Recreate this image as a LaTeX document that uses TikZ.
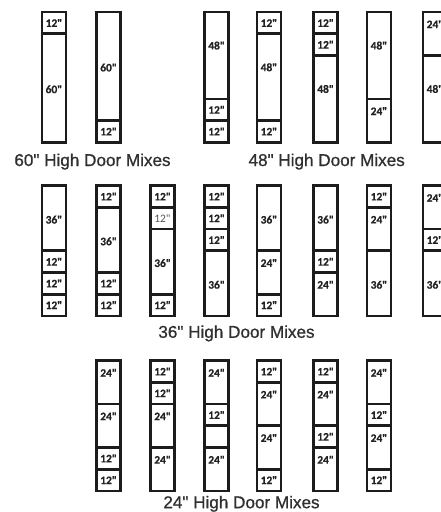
\documentclass[tikz,border=0pt]{standalone}
\usepackage{fontspec}
\setmainfont{Liberation Sans}[Ligatures=TeXOff, FakeBold=0.8]
\newfontfamily\carlito{Carlito}[Ligatures=TeXOff, BoldFeatures={FakeBold=0.6}]
\definecolor{framecol}{HTML}{1C1C1C}
\definecolor{lbltxt}{HTML}{222222}
\definecolor{lblreg}{HTML}{555555}
\definecolor{titlecol}{HTML}{303030}
\def\unitin{1.8097}
\newcommand\lfb{\carlito\bfseries\color{lbltxt}}
\newcommand\lfr{\carlito\mdseries\color{lblreg}}
\newcommand\doorcol[4]{%
  \gdef\gcum{0}%
  \foreach \s/\t [count=\i] in {#4} {%
    \pgfmathsetmacro\ya{#3+1.35+\gcum*\unitin}%
    \ifnum\i>1 \draw[doorline] (#2+1.35,\ya) -- (#2+25.35,\ya);\fi
    \pgfmathsetmacro\off{(\s==12)*10.9+(\s==24)*12.2+(\s==36)*34+(\s==48)*33.5+(\s==60)*55.5}%
    \if\t n\else\node[lbl] (#1-\i) at (#2+4.8,\ya+\off) {\csname lf\t\endcsname\s"};\fi
    \pgfmathsetmacro\nc{\gcum+\s}%
    \xdef\gcum{\nc}%
  }%
  \draw[doorframe] (#2+1.35,#3+1.35) rectangle (#2+25.35,#3+131.65);
}
\tikzset{
  doorframe/.style={draw=framecol, line width=2.8pt},
  doorline/.style={draw=framecol, line width=2.8pt},
  lbl/.style={anchor=west, inner sep=0pt, font=\carlito\fontsize{11.4}{12}\selectfont},
  title/.style={anchor=base, inner sep=0pt, text=titlecol, font=\fontsize{17.1}{20}\selectfont}
}
\begin{document}
\begin{tikzpicture}[x=1pt,y=-1pt]
\useasboundingbox (0,0) rectangle (441,512);
\clip (0,0) rectangle (441,512);
\fill[white] (0,0) rectangle (441,512);
% top row
\doorcol{t0}{40.7}{10.7}{12/b,60/b}
\doorcol{t1}{95.3}{10.7}{60/b,12/b}
\doorcol{t3}{203.3}{10.7}{48/b,12/b,12/b}
\doorcol{t4}{255.7}{10.7}{12/b,48/b,12/b}
\doorcol{t5}{312.3}{10.7}{12/b,12/b,48/b}
\doorcol{t6}{365.7}{10.7}{48/b,24/b}
\doorcol{t7}{421.7}{10.7}{24/b,48/b}
% middle row
\doorcol{m0}{40.7}{184.3}{36/b,12/b,12/b,12/b}
\doorcol{m1}{95.3}{184.3}{12/b,36/b,12/b,12/b}
\doorcol{m2}{149.3}{184.3}{12/b,12/r,36/b,12/b}
\doorcol{m3}{203.3}{184.3}{12/b,12/b,12/b,36/b}
\doorcol{m4}{255.7}{184.3}{36/b,24/b,12/b}
\doorcol{m5}{312.3}{184.3}{36/b,12/b,24/b}
\doorcol{m6}{365.7}{184.3}{12/b,24/b,36/b}
\doorcol{m7}{421.7}{184.3}{24/b,12/b,36/b}
% bottom row
\doorcol{b1}{95.3}{359.3}{24/b,24/b,12/b,12/b}
\doorcol{b2}{149.3}{359.3}{12/b,12/b,24/b,24/b}
\doorcol{b3}{203.3}{359.3}{24/b,12/b,12/n,24/b}
\doorcol{b4}{255.7}{359.3}{12/b,24/b,24/b,12/b}
\doorcol{b5}{312.3}{359.3}{12/b,24/b,12/b,24/b}
\doorcol{b6}{365.7}{359.3}{24/b,12/b,24/b,12/b}
% titles
\node[title] (h60) at (92.5,166) {60" High Door Mixes};
\node[title] (h48) at (326.7,166) {48" High Door Mixes};
\node[title] (h36) at (236.5,337.8) {36" High Door Mixes};
\node[title] (h24) at (241.5,508.2) {24" High Door Mixes};
\end{tikzpicture}
\end{document}
